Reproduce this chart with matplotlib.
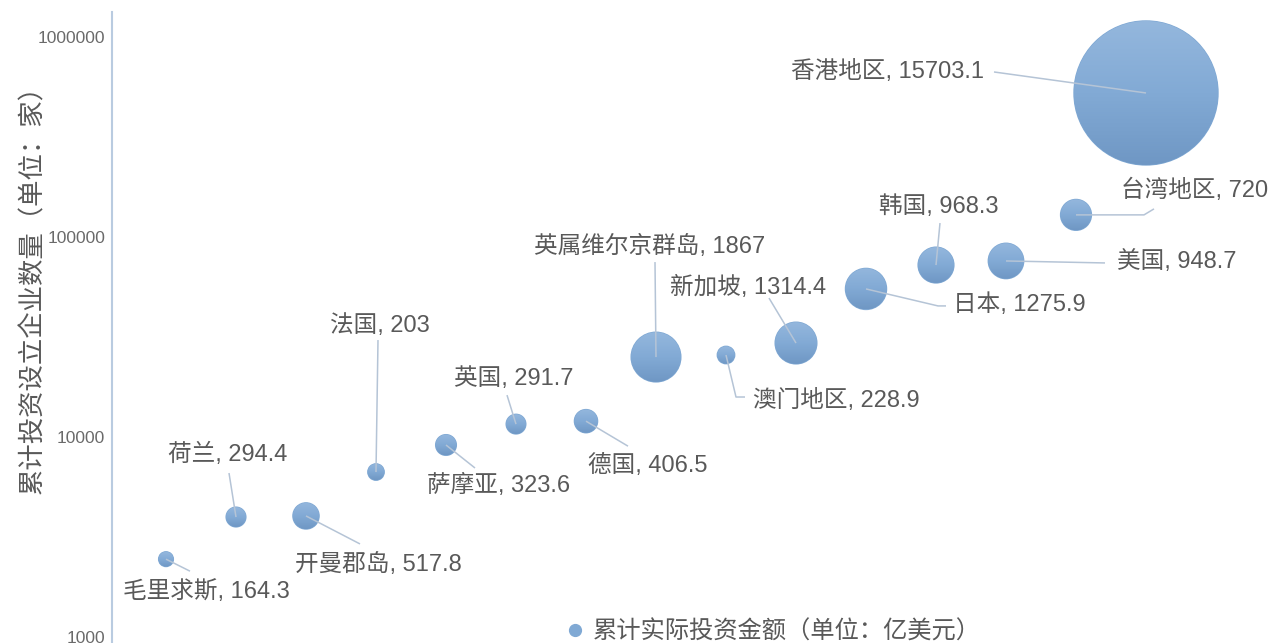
import numpy as np
import matplotlib.pyplot as plt
from matplotlib.lines import Line2D
from matplotlib.patches import Circle
from matplotlib.colors import LinearSegmentedColormap
from matplotlib.ticker import FixedLocator, NullLocator, FuncFormatter

plt.rcParams['font.family'] = ['Liberation Sans', 'Noto Sans CJK SC', 'DejaVu Sans']

names = ['毛里求斯', '荷兰', '开曼郡岛', '法国', '萨摩亚', '英国', '德国', '英属维尔京群岛',
         '澳门地区', '新加坡', '日本', '韩国', '美国', '台湾地区', '香港地区']
# 累计实际投资金额（亿美元） -> bubble size
invest = [164.3, 294.4, 517.8, 203, 323.6, 291.7, 406.5, 1867,
          228.9, 1314.4, 1275.9, 968.3, 948.7, 720, 15703.1]
# 累计投资设立企业数量（家） -> y
firms = [2450, 3980, 4030, 6680, 9120, 11600, 12000, 25100,
         25700, 29500, 55000, 72400, 75900, 129000, 525000]
yticks = [1000, 10000, 100000, 1000000]
pos = np.arange(1, len(names) + 1)

# label layout: pixel offsets from bubble centre (right, down)
text_off = [(40, 32), (-8, -63), (72, 49), (4, -146), (53, 40), (-2, -45), (62, 44),
            (-6, -111), (110, 45), (-48, -56), (153, 16), (3, -58), (171, 1),
            (119, -25), (-258, -21)]
leader = [[(24, 12)], [(-7, -44)], [(54, 28)], [(2, -132)], [(29, 23)], [(-9, -29)],
          [(42, 25)], [(-1, -95)], [(10, 42), (19, 42)], [(-27, -45)],
          [(72, 17), (80, 17)], [(4, -42)], [(99, 2)], [(68, 0), (78, -6)],
          [(-152, -21)]]

W, H = 1274, 643
fig = plt.figure(figsize=(W / 100, H / 100), dpi=100)
ax = fig.add_axes([112 / W, 0, 1 - 112 / W, 631 / H])

k = 0.6845
sizes = [v * k for v in invest]
ax.scatter(pos, firms, s=sizes, color='#80a9d4', zorder=2)
ax.set_yscale('log')
ax.set_xlim(1 - 54 / 70, 1 + 1108 / 70)
ax.set_ylim(10 ** 2.97, 10 ** 6.125)
ax.yaxis.set_major_locator(FixedLocator(yticks))
ax.yaxis.set_minor_locator(NullLocator())
ax.yaxis.set_major_formatter(FuncFormatter(lambda v, p: f'{int(round(v))}'))
ax.tick_params(axis='y', length=0, pad=5, labelsize=12.5, labelcolor='#6a6a6a')
ax.set_xticks([])
for s in ['top', 'right', 'bottom']:
    ax.spines[s].set_visible(False)
ax.spines['left'].set_color('#b9cbe0')
ax.spines['left'].set_linewidth(1.5)
ax.set_ylabel('累计投资设立企业数量（单位：家）', fontsize=19, color='#595959')
ax.yaxis.set_label_coords(-67 / (W - 112), (643 - 283) / 631)

# overlay in pixel space for gradients, leader lines and labels
ov = fig.add_axes([0, 0, 1, 1], zorder=3)
ov.set_autoscale_on(False)
ov.set_xlim(0, W)
ov.set_ylim(0, H)
ov.set_axis_off()
cmap = LinearSegmentedColormap.from_list('bub', ['#6f97c4', '#82aad5', '#94b7dd'])
grad = np.linspace(0, 1, 256).reshape(-1, 1)

for i in range(len(names)):
    cx, cy = ax.transData.transform((pos[i], firms[i]))
    r = np.sqrt(sizes[i]) / 2 * 100 / 72
    im = ov.imshow(grad, cmap=cmap, origin='lower', extent=[cx - r, cx + r, cy - r, cy + r],
                   aspect='auto', interpolation='bilinear', zorder=1)
    c = Circle((cx, cy), r, transform=ov.transData, facecolor='none', edgecolor='none')
    ov.add_patch(c)
    im.set_clip_path(c)

for i in range(len(names)):
    cx, cy = ax.transData.transform((pos[i], firms[i]))
    xs = [cx] + [cx + d[0] for d in leader[i]]
    ys = [cy] + [cy - d[1] for d in leader[i]]
    ov.plot(xs, ys, color='#b5c4d6', lw=1.1, zorder=2, solid_capstyle='butt')
    tx, ty = text_off[i]
    ov.text(cx + tx, cy - ty, f'{names[i]}, {invest[i]:g}', ha='center', va='center',
            fontsize=17, color='#595959', zorder=4)

fig.legend(handles=[Line2D([], [], marker='o', ls='', color='#80a9d4', markersize=8.5)],
           labels=['累计实际投资金额（单位：亿美元）'], loc='center',
           bbox_to_anchor=(773 / W, 1 - 632 / H), frameon=False, fontsize=17.5,
           handlelength=0.8, handletextpad=0.3, labelcolor='#595959')

fig.savefig('out.png', dpi=100)
